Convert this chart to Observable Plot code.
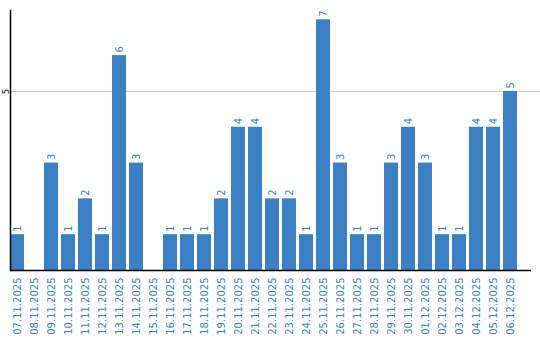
<!DOCTYPE html>
<html><head><meta charset="utf-8">
<script src="https://cdn.jsdelivr.net/npm/d3@7"></script>
<script src="https://cdn.jsdelivr.net/npm/@observablehq/plot@0.6"></script>
<style>body{margin:0;background:#fff}</style>
</head><body><div id="chart"></div>
<script>
const dates = ["07.11.2025","08.11.2025","09.11.2025","10.11.2025","11.11.2025","12.11.2025","13.11.2025","14.11.2025","15.11.2025","16.11.2025","17.11.2025","18.11.2025","19.11.2025","20.11.2025","21.11.2025","22.11.2025","23.11.2025","24.11.2025","25.11.2025","26.11.2025","27.11.2025","28.11.2025","29.11.2025","30.11.2025","01.12.2025","02.12.2025","03.12.2025","04.12.2025","05.12.2025","06.12.2025"];
const counts = [1,0,3,1,2,1,6,3,0,1,1,1,2,4,4,2,2,1,7,3,1,1,3,4,3,1,1,4,4,5];
const yTicks = [5];
const blue = "#3b7fc4";
const data = dates.map((d,i)=>({date:d, value:counts[i]}));
const nz = data.filter(d=>d.value>0);
const chart = Plot.plot({
  width:540, height:340,
  marginTop:10, marginLeft:10, marginRight:0, marginBottom:70,
  style:{fontFamily:"DejaVu Sans", background:"#fff"},
  x:{domain:dates, range:[10,517], paddingInner:3/17, paddingOuter:0, label:null},
  y:{domain:[0,7.26], label:null},
  marks:[
    Plot.gridY(yTicks, {stroke:"#c8c8c8", strokeOpacity:1}),
    Plot.barY(data, {x:"date", y:"value", fill:blue}),
    Plot.text(nz, {x:"date", y:"value", text:d=>String(d.value), rotate:-90, textAnchor:"start", dx:0, dy:-3, fill:blue, fontSize:10}),
    Plot.ruleY([0], {stroke:"#000", strokeWidth:1.5, insetRight:9}),
    Plot.frame({anchor:"left", stroke:"#000", strokeWidth:1.5}),
    Plot.axisY(yTicks, {tickSize:0, tickRotate:-90, tickPadding:2, fontSize:8, fill:"#000"}),
    Plot.axisX({tickSize:0, tickRotate:-90, tickPadding:7, fontSize:10, fill:blue})
  ]
});
document.getElementById("chart").appendChild(chart);
</script></body></html>
